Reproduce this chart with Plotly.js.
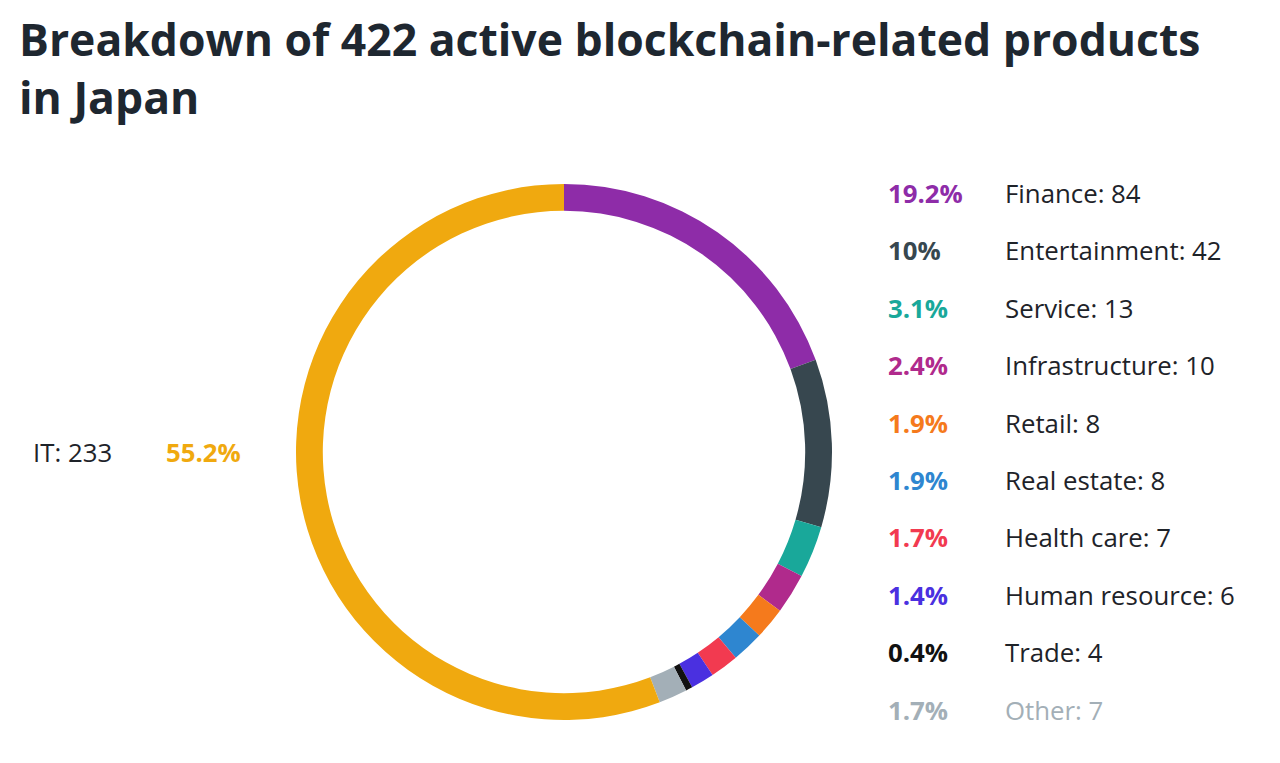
<!DOCTYPE html>
<html>
<head>
<meta charset="utf-8">
<script src="https://cdn.plot.ly/plotly-3.0.1.min.js"></script>
<style>html,body{margin:0;padding:0;background:#fff;}#chart{width:1280px;height:763px;}</style>
</head>
<body>
<div id="chart"></div>
<script>
const categories = ['Finance','Entertainment','Service','Infrastructure','Retail','Real estate','Health care','Human resource','Trade','Other','IT'];
const counts = [84,42,13,10,8,8,7,6,4,7,233];
const percents = [19.2,10,3.1,2.4,1.9,1.9,1.7,1.4,0.4,1.7,55.2];
const pctLabels = ['19.2%','10%','3.1%','2.4%','1.9%','1.9%','1.7%','1.4%','0.4%','1.7%','55.2%'];
const colors = ['#8E2CA8','#37474F','#19A89A','#B02A8C','#F57A1C','#2E86D0','#F23A50','#4A30E0','#111111','#A3AFB7','#F0A90F'];

const W = 1280, H = 763;
const px = x => x / W;
const py = y => 1 - y / H;
const FONT = '"Open Sans", "Noto Sans", sans-serif';
const dark = '#1E2329';
const FS = 25.8;

// pie geometry (pixels)
const cx = 564, cy = 452, R = 268;

const annotations = [];
const legendCount = categories.length - 1; // IT drawn on left
const rowTop = 193, rowStep = 57.4;
for (let i = 0; i < legendCount; i++) {
  const y = rowTop + i * rowStep;
  annotations.push({
    xref: 'paper', yref: 'paper', x: px(886), y: py(y), xanchor: 'left', yanchor: 'middle',
    text: '<b>' + pctLabels[i] + '</b>', showarrow: false,
    font: {family: FONT, size: FS, color: colors[i]}
  });
  annotations.push({
    xref: 'paper', yref: 'paper', x: px(1003), y: py(y), xanchor: 'left', yanchor: 'middle',
    text: categories[i] + ': ' + counts[i], showarrow: false,
    font: {family: FONT, size: FS, color: categories[i] === 'Other' ? colors[i] : dark}
  });
}
const itIdx = categories.length - 1;
annotations.push({
  xref: 'paper', yref: 'paper', x: px(31), y: py(452), xanchor: 'left', yanchor: 'middle',
  text: categories[itIdx] + ': ' + counts[itIdx], showarrow: false,
  font: {family: FONT, size: FS, color: dark}
});
annotations.push({
  xref: 'paper', yref: 'paper', x: px(164), y: py(452), xanchor: 'left', yanchor: 'middle',
  text: '<b>' + pctLabels[itIdx] + '</b>', showarrow: false,
  font: {family: FONT, size: FS, color: colors[itIdx]}
});

const data = [{
  type: 'pie',
  labels: categories,
  values: percents,
  marker: {colors: colors, line: {width: 0}},
  hole: 0.9,
  sort: false,
  direction: 'clockwise',
  rotation: 0,
  textinfo: 'none',
  hoverinfo: 'label+value',
  showlegend: false,
  domain: {x: [px(cx - R), px(cx + R)], y: [py(cy + R), py(cy - R)]}
}];

const layout = {
  width: W, height: H,
  margin: {l: 0, r: 0, t: 0, b: 0},
  paper_bgcolor: '#ffffff',
  plot_bgcolor: '#ffffff',
  showlegend: false,
  title: {
    text: '<b>Breakdown of 422 active blockchain-related products<br>in Japan</b>',
    x: 19 / W, xref: 'container', xanchor: 'left',
    y: 1 - 56 / H, yref: 'container', yanchor: 'top',
    font: {family: FONT, size: 44.5, color: '#1E2730'}
  },
  annotations: annotations
};

Plotly.newPlot('chart', data, layout, {displayModeBar: false, staticPlot: true});
</script>
</body>
</html>
